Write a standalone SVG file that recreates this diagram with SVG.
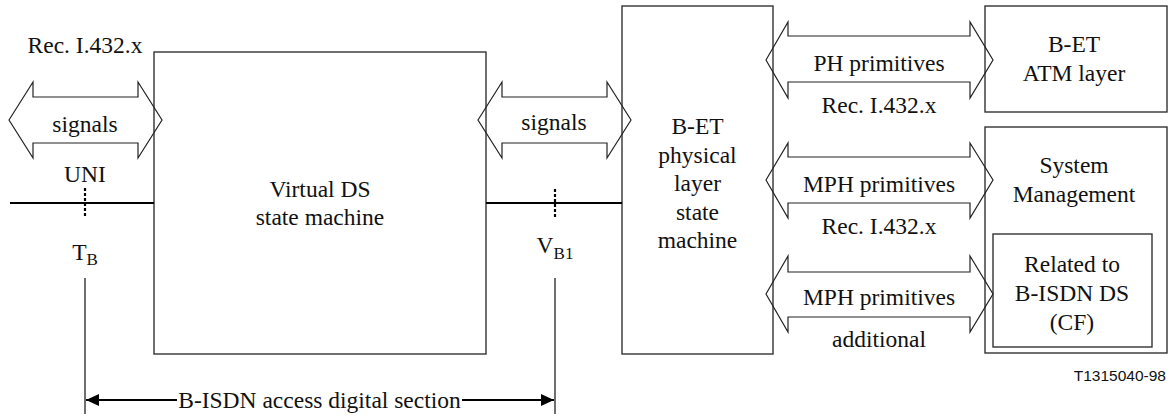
<svg xmlns="http://www.w3.org/2000/svg" width="1171" height="416" viewBox="0 0 1171 416" font-family="'Liberation Serif', 'Times New Roman', 'DejaVu Serif', serif">
<defs>
<style>
.box{fill:none;stroke:#333;stroke-width:1.4}
.arr{fill:none;stroke:#222;stroke-width:1.2;stroke-linejoin:miter}
.ln{stroke:#000;stroke-width:2.2;fill:none}
.thin{stroke:#222;stroke-width:1.3;fill:none}
.dash{stroke:#000;stroke-width:2.2;stroke-dasharray:3 2;fill:none}
.t{font-family:'Liberation Serif','Times New Roman','DejaVu Serif',serif;font-size:23.5px;fill:#111;text-anchor:middle}
.sub{font-size:17px}
.id{font-family:'Liberation Sans',Arial,sans-serif;font-size:15.5px;fill:#111;text-anchor:end}
</style>
<marker id="ah" viewBox="0 0 13 12" refX="13" refY="6" markerWidth="13" markerHeight="12" markerUnits="userSpaceOnUse" orient="auto">
<path d="M0,0 L13,6 L0,12 Z" fill="#000"/>
</marker>
</defs>

<g id="virtual-ds">
<rect class="box" x="154" y="52" width="332" height="302"/>
<text class="t" x="320" y="197">Virtual DS</text>
<text class="t" x="320" y="225">state machine</text>
</g>

<g id="bet-phys">
<rect class="box" x="622" y="6" width="151" height="348"/>
<text class="t" x="697.5" y="134">B-ET</text>
<text class="t" x="697.5" y="163">physical</text>
<text class="t" x="697.5" y="191">layer</text>
<text class="t" x="697.5" y="220">state</text>
<text class="t" x="697.5" y="248">machine</text>
</g>

<g id="bet-atm">
<rect class="box" x="985" y="6" width="182" height="106"/>
<text class="t" x="1074" y="52">B-ET</text>
<text class="t" x="1074" y="81">ATM layer</text>
</g>

<g id="sysmgmt">
<rect class="box" x="985" y="127" width="182" height="226"/>
<text class="t" x="1074" y="173">System</text>
<text class="t" x="1074" y="202">Management</text>
</g>

<g id="related">
<rect class="box" x="993" y="234" width="159" height="113"/>
<text class="t" x="1072" y="272">Related to</text>
<text class="t" x="1072" y="301">B-ISDN DS</text>
<text class="t" x="1072" y="330">(CF)</text>
</g>

<g id="connectors">
<polygon class="arr" points="9,120 33,82 33,97 138,97 138,82 162,120 138,158 138,143 33,143 33,158"/>
<polygon class="arr" points="478,120 502,82 502,97 607,97 607,82 631,120 607,158 607,143 502,143 502,158"/>
<polygon class="arr" points="766,60 788,22 788,36 970,36 970,22 993,60 970,98 970,82 788,82 788,98"/>
<polygon class="arr" points="766,180 788,143 788,157 970,157 970,143 993,180 970,218 970,203 788,203 788,218"/>
<polygon class="arr" points="766,294 788,256 788,272 970,272 970,256 993,294 970,332 970,317 788,317 788,332"/>
<line class="ln" x1="10" y1="203" x2="154" y2="203"/>
<line class="ln" x1="486" y1="203" x2="622" y2="203"/>
<line class="dash" x1="85" y1="188" x2="85" y2="218"/>
<line class="dash" x1="555" y1="189" x2="555" y2="218"/>
<line class="thin" x1="85" y1="278" x2="85" y2="414"/>
<line class="thin" x1="555" y1="278" x2="555" y2="414"/>
<line class="ln" x1="177" y1="400" x2="86" y2="400" marker-end="url(#ah)"/>
<line class="ln" x1="462" y1="400" x2="554" y2="400" marker-end="url(#ah)"/>
</g>

<g id="labels">
<text class="t" x="85" y="53">Rec. I.432.x</text>
<text class="t" x="85" y="132">signals</text>
<text class="t" x="85" y="182">UNI</text>
<text class="t" x="85" y="260"><tspan>T</tspan><tspan class="sub" dy="5">B</tspan></text>
<text class="t" x="554" y="130">signals</text>
<text class="t" x="555" y="253"><tspan>V</tspan><tspan class="sub" dy="6">B1</tspan></text>
<text class="t" x="879" y="71">PH primitives</text>
<text class="t" x="879" y="113">Rec. I.432.x</text>
<text class="t" x="879" y="192">MPH primitives</text>
<text class="t" x="879" y="234">Rec. I.432.x</text>
<text class="t" x="879" y="305">MPH primitives</text>
<text class="t" x="879" y="347">additional</text>
<text class="t" x="319.5" y="408">B-ISDN access digital section</text>
<text class="id" x="1166" y="381">T1315040-98</text>
</g>
</svg>
